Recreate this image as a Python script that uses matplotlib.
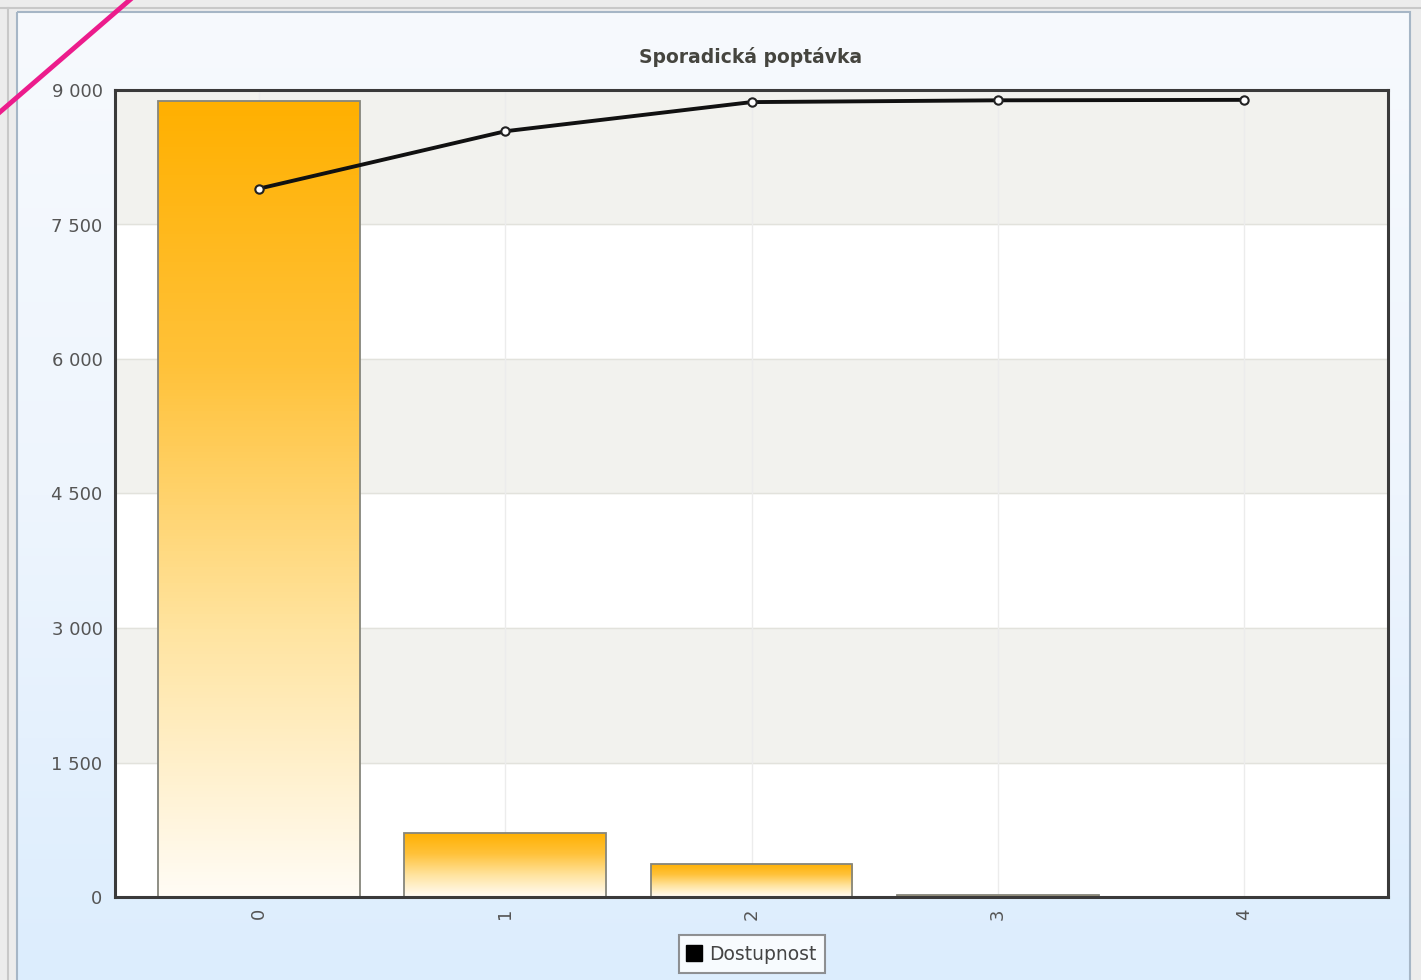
import numpy as np
import matplotlib
matplotlib.use("Agg")
import matplotlib.pyplot as plt
from matplotlib.colors import LinearSegmentedColormap
from matplotlib.patches import Rectangle
from matplotlib.lines import Line2D

# data
categories = ["0", "1", "2", "3", "4"]
bar_values = [8880, 715, 370, 25, 3]
line_values = [7900, 8540, 8865, 8885, 8890]
y_ticks = [0, 1500, 3000, 4500, 6000, 7500, 9000]
y_labels = ["0", "1 500", "3 000", "4 500", "6 000", "7 500", "9 000"]
series_name = "Dostupnost"
title = "Sporadická poptávka"

W, H = 1421, 980
fig = plt.figure(figsize=(W / 100, H / 100), dpi=100)

# page background: grey outer strip, light panel with a blue gradient
bg = fig.add_axes([0, 0, 1, 1], zorder=-10)
bg.set_xlim(0, W)
bg.set_ylim(H, 0)
bg.axis("off")
bg.add_patch(Rectangle((0, 0), W, H, color="#ececec"))
grad = LinearSegmentedColormap.from_list("panel", ["#f7fafd", "#eef5fd", "#dcedfd"])
bg.imshow(np.linspace(0, 1, 256).reshape(-1, 1), cmap=grad, aspect="auto",
          extent=(17, 1410, H, 12), zorder=1)
bg.add_patch(Rectangle((17, 12), 1393, H, fill=False, ec="#a6b6c6", lw=1.5, zorder=2))
bg.add_line(Line2D([8, 8], [8, H], color="#c8c8c8", lw=1.5, zorder=2))
bg.add_line(Line2D([0, W], [8, 8], color="#c8c8c8", lw=1.5, zorder=2))
bg.add_line(Line2D([0, 132], [112, -2], color="#ec1c8c", lw=3.5, zorder=5))

ax = fig.add_axes([115 / W, 1 - 897 / H, (1388 - 115) / W, (897 - 90) / H])
ax.set_facecolor("white")
x = np.arange(len(categories))

# alternating horizontal bands
for i in range(len(y_ticks) - 1):
    if i % 2 == 1:
        ax.axhspan(y_ticks[i], y_ticks[i + 1], color="#f2f2ee", zorder=0)
for t in y_ticks[1:-1]:
    ax.axhline(t, color="#e2e2dc", lw=1, zorder=0.5)
for xi in x:
    ax.axvline(xi, color="#ececec", lw=1, zorder=0.5)

# bars with vertical orange gradient
bar_cmap = LinearSegmentedColormap.from_list("bar", ["#fffcf6", "#ffe4a0", "#ffc23a", "#ffb000"])
bars = ax.bar(x, bar_values, width=0.82, color="none", edgecolor="#86867c", lw=1.3, zorder=2)
for b in bars:
    bx, by = b.get_x(), b.get_y()
    bw, bh = b.get_width(), b.get_height()
    if bh <= 0:
        continue
    im = ax.imshow(np.linspace(0, 1, 256).reshape(-1, 1), cmap=bar_cmap, origin="lower",
                   aspect="auto", extent=(bx, bx + bw, by, by + bh), zorder=1.5)
    im.set_clip_path(b)
ax.set_xlim(-0.585, 4.585)
ax.set_ylim(0, 9000)

# line series
ax.plot(x, line_values, color="#111111", lw=2.8, zorder=4, solid_capstyle="round",
        marker="o", ms=6, mfc="white", mec="#222222", mew=1.5, label=series_name)

for s in ax.spines.values():
    s.set_color("#3a3a3a")
    s.set_linewidth(2.2)

ax.set_yticks(y_ticks)
ax.set_yticklabels(y_labels)
ax.set_xticks(x)
ax.set_xticklabels(categories, rotation=90)
ax.tick_params(axis="both", length=0, labelsize=13, labelcolor="#555555", pad=8)
ax.tick_params(axis="y", pad=9)

fig.text(751 / W, 1 - 57 / H, title, ha="center", va="center", fontsize=13.5,
         fontweight="bold", color="#45453f")

handle = Line2D([], [], color="black", marker="s", ms=12, lw=0)
leg = fig.legend([handle], [series_name], loc="center", bbox_to_anchor=(752 / W, 1 - 954 / H),
                 fontsize=13.5, frameon=True, fancybox=False, handlelength=0.6,
                 handletextpad=0.5, borderpad=0.5, labelcolor="#444444")
leg.get_frame().set_edgecolor("#777777")
leg.get_frame().set_linewidth(1.5)
leg.get_frame().set_facecolor("white")

fig.savefig("out.png", dpi=100)
